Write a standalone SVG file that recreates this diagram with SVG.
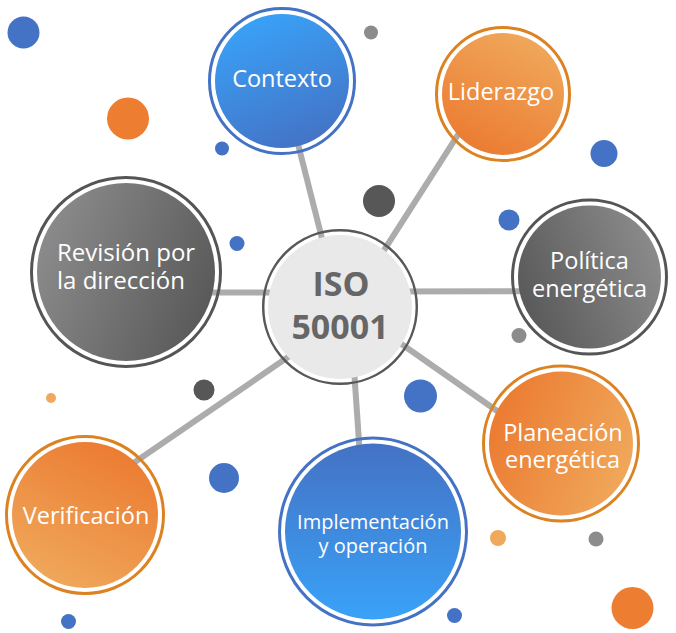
<svg xmlns="http://www.w3.org/2000/svg" width="676" height="633" viewBox="0 0 676 633">
<defs>
<linearGradient id="gBlueDown" x1="0.3" y1="0" x2="0.7" y2="1"><stop offset="0" stop-color="#39a2f8"/><stop offset="1" stop-color="#4472c4"/></linearGradient>
<linearGradient id="gBlueUp" x1="0" y1="0" x2="0" y2="1"><stop offset="0" stop-color="#4472c4"/><stop offset="1" stop-color="#39a2f8"/></linearGradient>
<linearGradient id="gOrLid" x1="0.75" y1="0" x2="0.25" y2="1"><stop offset="0" stop-color="#f0a95c"/><stop offset="1" stop-color="#eb7a30"/></linearGradient>
<linearGradient id="gOrVer" x1="0.75" y1="0" x2="0.25" y2="1"><stop offset="0" stop-color="#eb7a30"/><stop offset="1" stop-color="#f0a95c"/></linearGradient>
<linearGradient id="gOrPla" x1="0" y1="0.3" x2="1" y2="0.7"><stop offset="0" stop-color="#eb7a30"/><stop offset="1" stop-color="#f0a95c"/></linearGradient>
<linearGradient id="gGrayRev" x1="0" y1="0.3" x2="1" y2="0.7"><stop offset="0" stop-color="#8c8c8c"/><stop offset="1" stop-color="#585858"/></linearGradient>
<linearGradient id="gGrayPol" x1="0" y1="0.7" x2="1" y2="0.3"><stop offset="0" stop-color="#585858"/><stop offset="1" stop-color="#8c8c8c"/></linearGradient>
<style>
.ringB{fill:none;stroke:#4472c4;stroke-width:3}
.ringO{fill:none;stroke:#dc8221;stroke-width:3}
.ringG{fill:none;stroke:#555555;stroke-width:3}
.lbl{font-family:"Open Sans","Noto Sans","Liberation Sans",sans-serif;fill:#ffffff;font-size:23.5px;text-anchor:middle}
.small{font-size:20px}
.iso{font-family:"Open Sans","Noto Sans","Liberation Sans",sans-serif;fill:#666666;font-size:34px;font-weight:bold;text-anchor:middle}
.conn{stroke:#acacac;stroke-width:6;fill:none}
.dB{fill:#4472c4}.dO{fill:#ed7d31}.dL{fill:#f0a95c}.dG{fill:#8c8c8c}.dD{fill:#575757}
</style>
</defs>
<rect width="676" height="633" fill="#ffffff"/>
<g id="dots">
<circle class="dB" cx="23.5" cy="32.5" r="16"/>
<circle class="dO" cx="128" cy="118.5" r="21"/>
<circle class="dB" cx="222" cy="148.5" r="7"/>
<circle class="dG" cx="371" cy="32.5" r="7"/>
<circle class="dB" cx="604" cy="153.5" r="13.5"/>
<circle class="dD" cx="379" cy="201" r="16"/>
<circle class="dB" cx="509" cy="220" r="10.5"/>
<circle class="dB" cx="237" cy="243.5" r="7.5"/>
<circle class="dG" cx="519" cy="335.5" r="7.5"/>
<circle class="dD" cx="204" cy="390" r="10.5"/>
<circle class="dL" cx="51" cy="398" r="5"/>
<circle class="dB" cx="420.5" cy="396" r="16.5"/>
<circle class="dB" cx="224" cy="478" r="15"/>
<circle class="dL" cx="498" cy="538" r="8"/>
<circle class="dG" cx="596" cy="539" r="7.5"/>
<circle class="dO" cx="632.5" cy="608" r="21"/>
<circle class="dB" cx="68.5" cy="621.5" r="7.5"/>
<circle class="dB" cx="454.5" cy="615.5" r="7.5"/>
</g>
<g id="connectors">
<line class="conn" x1="282" y1="81" x2="330" y2="270"/>
<line class="conn" x1="495" y1="77" x2="372" y2="269"/>
<line class="conn" x1="140" y1="292.5" x2="300" y2="292.5"/>
<line class="conn" x1="380" y1="291.5" x2="580" y2="291"/>
<line class="conn" x1="370" y1="322" x2="540" y2="441"/>
<line class="conn" x1="352" y1="340" x2="363" y2="500"/>
<line class="conn" x1="310" y1="342" x2="100" y2="486"/>
</g>
<g id="node-contexto">
<circle class="ringB" cx="282" cy="81" r="72.5"/>
<circle cx="282" cy="81" r="67" fill="url(#gBlueDown)"/>
<text class="lbl" x="282" y="87">Contexto</text>
</g>
<g id="node-liderazgo">
<circle class="ringO" cx="503" cy="94" r="66.5"/>
<circle cx="503" cy="94" r="61" fill="url(#gOrLid)"/>
<text class="lbl" x="501" y="99.5">Liderazgo</text>
</g>
<g id="node-revision">
<circle class="ringG" cx="126" cy="272" r="94.5"/>
<circle cx="126" cy="272" r="89" fill="url(#gGrayRev)"/>
<text class="lbl" x="57" y="261" style="text-anchor:start;font-size:24px">Revisión por</text>
<text class="lbl" x="57" y="288.5" style="text-anchor:start;font-size:24px">la dirección</text>
</g>
<g id="node-politica">
<circle class="ringG" cx="589.5" cy="277" r="77"/>
<circle cx="589.5" cy="277" r="71.5" fill="url(#gGrayPol)"/>
<text class="lbl" x="589.5" y="269">Política</text>
<text class="lbl" x="589.5" y="297">energética</text>
</g>
<g id="node-planeacion">
<circle class="ringO" cx="561" cy="443.5" r="77.5"/>
<circle cx="561" cy="443.5" r="72" fill="url(#gOrPla)"/>
<text class="lbl" x="563" y="441">Planeación</text>
<text class="lbl" x="562.5" y="468">energética</text>
</g>
<g id="node-verificacion">
<circle class="ringO" cx="85" cy="515" r="78.5"/>
<circle cx="85" cy="515" r="73" fill="url(#gOrVer)"/>
<text class="lbl" x="86" y="524">Verificación</text>
</g>
<g id="node-implementacion">
<circle class="ringB" cx="373" cy="531.5" r="93.5"/>
<circle cx="373" cy="531.5" r="88" fill="url(#gBlueUp)"/>
<text class="lbl small" x="373" y="529">Implementación</text>
<text class="lbl small" x="373" y="553">y operación</text>
</g>
<g id="node-iso">
<circle cx="340" cy="307" r="76.8" fill="none" stroke="#585858" stroke-width="2.5"/>
<circle cx="340" cy="307" r="72" fill="#e9e9e9"/>
<text class="iso" x="341" y="296">ISO</text>
<text class="iso" x="340" y="339">50001</text>
</g>
</svg>
